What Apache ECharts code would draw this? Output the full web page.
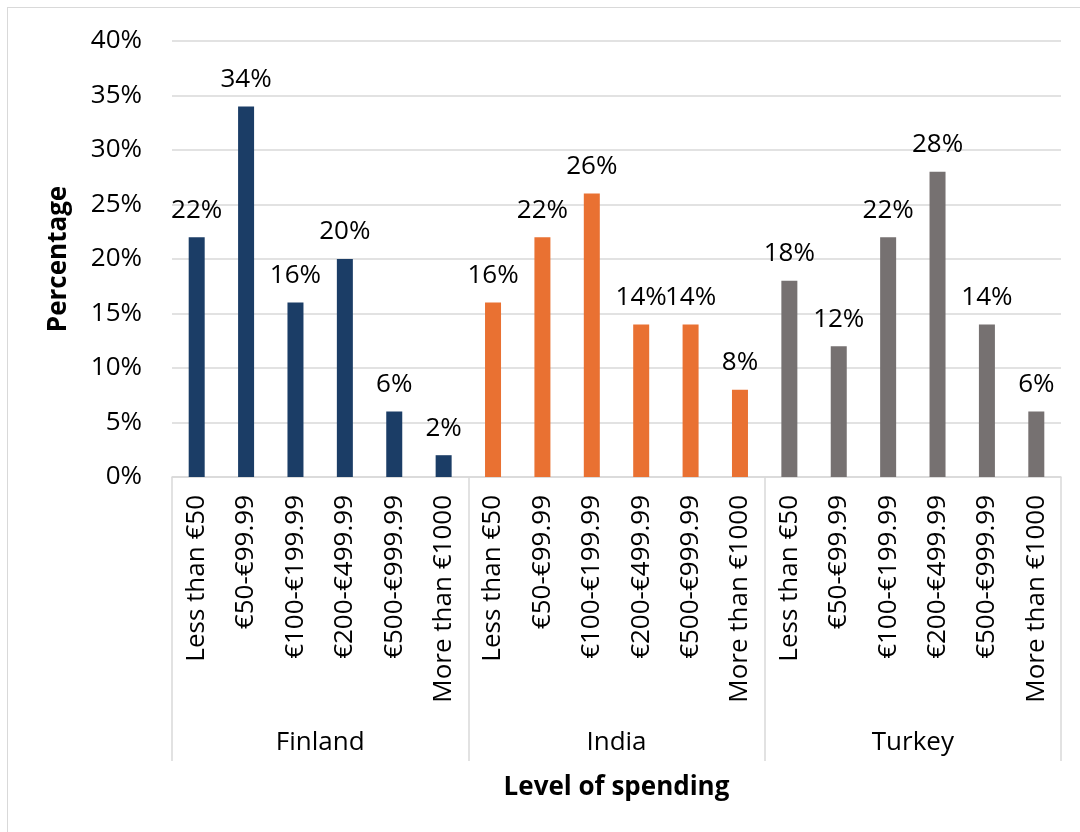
<!DOCTYPE html>
<html>
<head>
<meta charset="utf-8">
<script src="https://cdn.jsdelivr.net/npm/echarts@6/dist/echarts.min.js"></script>
<style>
html,body{margin:0;padding:0;background:#fff;}
#chart{position:absolute;left:0;top:0;width:1080px;height:832px;}
#frame{position:absolute;left:7px;top:7px;width:1100px;height:900px;border-top:1.5px solid #d9d9d9;border-left:1.5px solid #d9d9d9;pointer-events:none;}
</style>
</head>
<body>
<div id="chart"></div>
<div id="frame"></div>
<script>
const spendingLevels = ['Less than €50','€50-€99.99','€100-€199.99','€200-€499.99','€500-€999.99','More than €1000'];
const countries = ['Finland','India','Turkey'];
const finland = [22,34,16,20,6,2];
const india = [16,22,26,14,14,8];
const turkey = [18,12,22,28,14,6];
const colors = ['#1b3d66','#e97132','#767171'];
const yTicks = [0,5,10,15,20,25,30,35,40];

const FONT = '"Open Sans", "Noto Sans", sans-serif';
const categories = [];
countries.forEach(() => spendingLevels.forEach(s => categories.push(s)));
const allValues = [finland, india, turkey];

const series = countries.map((c, ci) => {
  const data = [];
  countries.forEach((_, gi) => {
    spendingLevels.forEach((_, si) => {
      data.push(gi === ci ? allValues[ci][si] : '-');
    });
  });
  return {
    name: c,
    type: 'bar',
    stack: 'all',
    barWidth: 16,
    data: data,
    itemStyle: {color: colors[ci]},
    label: {
      show: true,
      position: 'top',
      distance: 14,
      formatter: '{c}%',
      color: '#000',
      fontFamily: FONT,
      fontSize: 26
    }
  };
});

const chart = echarts.init(document.getElementById('chart'));
chart.setOption({
  backgroundColor: '#fff',
  animation: false,
  grid: {left: 172, right: 19, top: 41, bottom: 355, containLabel: false},
  xAxis: [
    {
      type: 'category',
      data: categories,
      position: 'bottom',
      axisLine: {show: true, lineStyle: {color: '#d9d9d9', width: 1.5}},
      axisTick: {show: false},
      axisLabel: {
        rotate: 90, interval: 0, margin: 18,
        color: '#000', fontFamily: FONT, fontSize: 26
      }
    },
    {
      type: 'category',
      data: countries,
      position: 'bottom',
      axisLine: {show: false},
      axisTick: {show: true, length: 284, lineStyle: {color: '#d9d9d9', width: 1.5}},
      axisLabel: {margin: 253, color: '#000', fontFamily: FONT, fontSize: 26},
      name: 'Level of spending',
      nameLocation: 'middle',
      nameGap: 298,
      nameTextStyle: {color: '#000', fontFamily: FONT, fontSize: 26, fontWeight: 'bold'}
    }
  ],
  yAxis: {
    type: 'value',
    min: yTicks[0],
    max: yTicks[yTicks.length - 1],
    interval: 5,
    axisLine: {show: false},
    axisTick: {show: false},
    splitLine: {lineStyle: {color: '#d9d9d9', width: 1.5}},
    axisLabel: {formatter: '{value}%', margin: 30, color: '#000', fontFamily: FONT, fontSize: 26},
    name: 'Percentage',
    nameLocation: 'middle',
    nameRotate: 90,
    nameGap: 100,
    nameTextStyle: {color: '#000', fontFamily: FONT, fontSize: 26, fontWeight: 'bold'}
  },
  series: series
});
</script>
</body>
</html>
